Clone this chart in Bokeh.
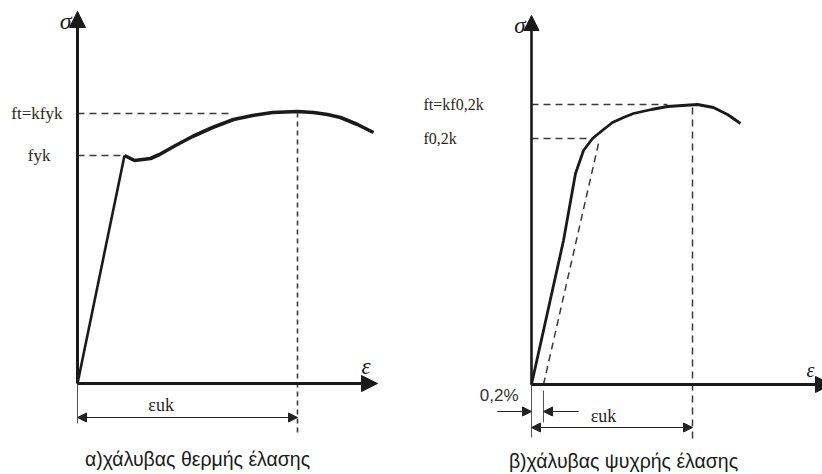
from bokeh.plotting import figure
from bokeh.layouts import row
from bokeh.models import Arrow, NormalHead, Range1d
from bokeh.core.properties import value
from bokeh.embed import file_html
from bokeh.resources import INLINE

# ---------------- data (schematic units) ----------------
# a) hot rolled steel
strain_a = [0, 47, 57, 73, 82, 98, 115, 135, 156, 175, 195, 220, 236, 250, 263, 280, 296]
stress_a = [0, 228, 223, 225, 229, 238, 247, 256, 264, 268, 271, 272, 271, 269, 266, 259, 251]
fyk_a = 228
ft_a = 270
euk_a = 220
labels_a = ["ft=kfyk", "fyk"]
caption_a = "α)χάλυβας θερμής έλασης"

# b) cold worked steel
strain_b = [0, 32, 44, 52, 61, 72, 81, 92, 102, 120, 136, 166, 182, 196, 209]
stress_b = [0, 144, 211, 234, 246, 255, 262, 267, 271, 275, 278, 280, 277, 270, 261]
offset_b = 12          # 0,2 % offset strain
f02_b = 246
f02_strain_b = 67
ft_b = 280
euk_b = 161
labels_b = ["ft=kf0,2k", "f0,2k"]
caption_b = "β)χάλυβας ψυχρής έλασης"

SERIF = value("Liberation Serif")
SANS = value("Liberation Sans")
INK = "#1a1a1a"
DASH = "#3a3a3a"
TXT = "#2b2620"


def base(x0, x1, y0, y1):
    p = figure(width=411, height=474, x_range=Range1d(x0, x1), y_range=Range1d(y0, y1),
               x_axis_type=None, y_axis_type=None, toolbar_location=None,
               output_backend="svg", min_border=0, outline_line_color=None)
    p.grid.visible = False
    return p


def arrow(p, xs, ys, xe, ye, size, width, color=INK):
    p.add_layout(Arrow(end=NormalHead(size=size, fill_color=color, line_color=color),
                       x_start=xs, y_start=ys, x_end=xe, y_end=ye,
                       line_width=width, line_color=color))


def dim_arrow(p, xs, xe, y, color="#222222"):
    p.add_layout(Arrow(start=NormalHead(size=9, fill_color=color, line_color=color),
                       end=NormalHead(size=9, fill_color=color, line_color=color),
                       x_start=xs, y_start=y, x_end=xe, y_end=y,
                       line_width=1.2, line_color=color))


# ---------------- panel a ----------------
pa = base(-77, 334, -91, 383)
arrow(pa, 0, 0, 0, 372, 16, 3)
arrow(pa, 0, 0, 300, 0, 16, 3)
pa.text([-6], [363], text=["σ"], text_font=SERIF, text_font_style="italic",
        text_font_size="24px", text_align="right", text_baseline="middle", text_color=INK)
pa.text([284], [17], text=["ε"], text_font=SERIF, text_font_style="italic",
        text_font_size="23px", text_align="left", text_baseline="middle", text_color=INK)
pa.line([0, 153], [ft_a, ft_a], line_dash="7 5", line_width=1.6, line_color=DASH)
pa.line([0, strain_a[1]], [fyk_a, fyk_a], line_dash="7 5", line_width=1.6, line_color=DASH)
pa.line([euk_a, euk_a], [-49, ft_a], line_dash="5 4", line_width=1.6, line_color=DASH)
pa.line(strain_a[:2], stress_a[:2], line_width=2.6, line_color=INK)
pa.line(strain_a[1:], stress_a[1:], line_width=3.6, line_color=INK, line_join="round")
pa.text([-15, -27], [ft_a, fyk_a], text=labels_a, text_font=SERIF, text_font_size="17px",
        text_align="right", text_baseline="middle", text_color=TXT)
pa.line([0, 0], [0, -40], line_width=1, line_color="#555555")
dim_arrow(pa, 0, euk_a, -34)
pa.text([euk_a * 0.38], [-21], text=["εuk"], text_font=SERIF, text_font_size="18px",
        text_align="center", text_baseline="middle", text_color=TXT)
pa.text([120], [-75], text=[caption_a], text_font=SANS, text_font_size="19.5px",
        text_align="center", text_baseline="middle", text_color="#1a1a1a")

# ---------------- panel b ----------------
pb = base(-120, 291, -90, 384)
arrow(pb, 0, 0, 0, 369, 15, 2.6)
arrow(pb, 0, 0, 300, 0, 16, 3)
pb.text([-6], [359], text=["σ"], text_font=SERIF, text_font_style="italic",
        text_font_size="23px", text_align="right", text_baseline="middle", text_color=INK)
pb.text([275], [15], text=["ε"], text_font=SERIF, text_font_style="italic",
        text_font_size="20px", text_align="left", text_baseline="middle", text_color=INK)
pb.line([0, 136], [ft_b, ft_b], line_dash="7 5", line_width=1.5, line_color=DASH)
pb.line([0, 62], [f02_b, f02_b], line_dash="7 5", line_width=1.5, line_color=DASH)
pb.line([euk_b, euk_b], [-54, ft_b], line_dash="7 5", line_width=1.5, line_color=DASH)
pb.line([offset_b, f02_strain_b], [0, 241], line_dash="7 5", line_width=1.5, line_color=DASH)
pb.line(strain_b, stress_b, line_width=2.8, line_color=INK, line_join="round")
pb.text([-108, -108], [ft_b, f02_b], text=labels_b, text_font=SERIF, text_font_size="16px",
        text_align="left", text_baseline="middle", text_color=TXT)
pb.line([0, 0], [0, -53], line_width=1, line_color="#555555")
pb.line([offset_b, offset_b], [-6, -38], line_width=1, line_color="#555555")
arrow(pb, -34, -27, 0, -27, 9, 1.2, "#222222")
arrow(pb, 47, -27, offset_b, -27, 9, 1.2, "#222222")
pb.text([-13], [-11], text=["0,2%"], text_font=SANS, text_font_size="17px",
        text_align="right", text_baseline="middle", text_color="#333333")
dim_arrow(pb, 0, euk_b, -43)
pb.text([72], [-31], text=["εuk"], text_font=SERIF, text_font_size="18px",
        text_align="center", text_baseline="middle", text_color=TXT)
pb.text([92], [-76], text=[caption_b], text_font=SANS, text_font_size="19.5px",
        text_align="center", text_baseline="middle", text_color="#1a1a1a")

layout = row(pa, pb)
open("out.html", "w").write(file_html(layout, INLINE))
